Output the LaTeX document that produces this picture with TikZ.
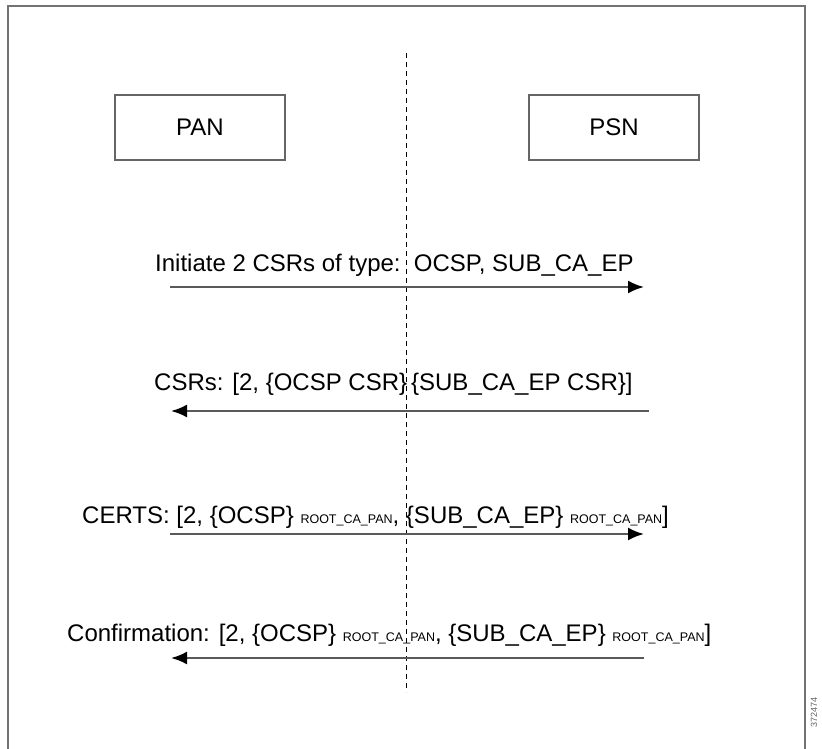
\documentclass[tikz,border=0pt]{standalone}
\usepackage{fontspec}
\setmainfont{Liberation Sans}
\usetikzlibrary{arrows.meta}
\begin{document}
\begin{tikzpicture}[x=1pt,y=-1pt,
  framecol/.style={draw=black!55,line width=1.6pt},
  nodebox/.style={draw=black!60,line width=1.4pt,minimum width=170pt,minimum height=65pt,inner sep=0pt,font=\fontsize{24}{28}\selectfont},
  msg/.style={inner sep=0pt,anchor=base west,font=\fontsize{24}{28}\selectfont},
  msgarrow/.style={draw=black!65,line width=2.2pt,-{Latex[length=16pt,width=13pt,color=black]}},
  divider/.style={draw=black,line width=1pt,dash pattern=on 5pt off 4pt}
]
\useasboundingbox (0,0) rectangle (822,749);
\fill[white] (0,0) rectangle (822,749);
% frame
\draw[framecol] (8,749) -- (8,6) -- (805,6) -- (805,749);
% divider
\coordinate (dtop) at (406,53);
\coordinate (dbot) at (406,692);
\draw[divider] (dtop) -- (dbot);
% boxes
\node[nodebox] (pan) at (200,127.5) {PAN};
\node[nodebox] (psn) at (614,127.5) {PSN};
% messages
\newcommand{\rcp}{{\fontsize{12.5}{14}\selectfont ROOT\_CA\_PAN}}
\node[msg] (m1) at (155,271) {Initiate 2 CSRs of type:\ \ OCSP, SUB\_CA\_EP};
\node[msg] (m2) at (154,390) {CSRs: [2, \{OCSP CSR\}\,\{SUB\_CA\_EP CSR\}]};
\node[msg] (m3) at (82,523) {CERTS: [2, \{OCSP\} \rcp, \{SUB\_CA\_EP\} \rcp]};
\node[msg] (m4) at (67,641) {Confirmation: [2, \{OCSP\} \rcp, \{SUB\_CA\_EP\} \rcp]};
% arrows
\coordinate (a1s) at (170,287); \coordinate (a1e) at (644,287);
\coordinate (a2s) at (649,411); \coordinate (a2e) at (171,411);
\coordinate (a3s) at (170,534); \coordinate (a3e) at (644,534);
\coordinate (a4s) at (644,658); \coordinate (a4e) at (171,658);
\draw[msgarrow] (a1s) -- (a1e);
\draw[msgarrow] (a2s) -- (a2e);
\draw[msgarrow] (a3s) -- (a3e);
\draw[msgarrow] (a4s) -- (a4e);
% figure number
\node[rotate=90,font=\fontsize{9}{10}\selectfont,text=black!60,inner sep=0pt] (fignum) at (814,712) {372474};
\end{tikzpicture}
\end{document}
